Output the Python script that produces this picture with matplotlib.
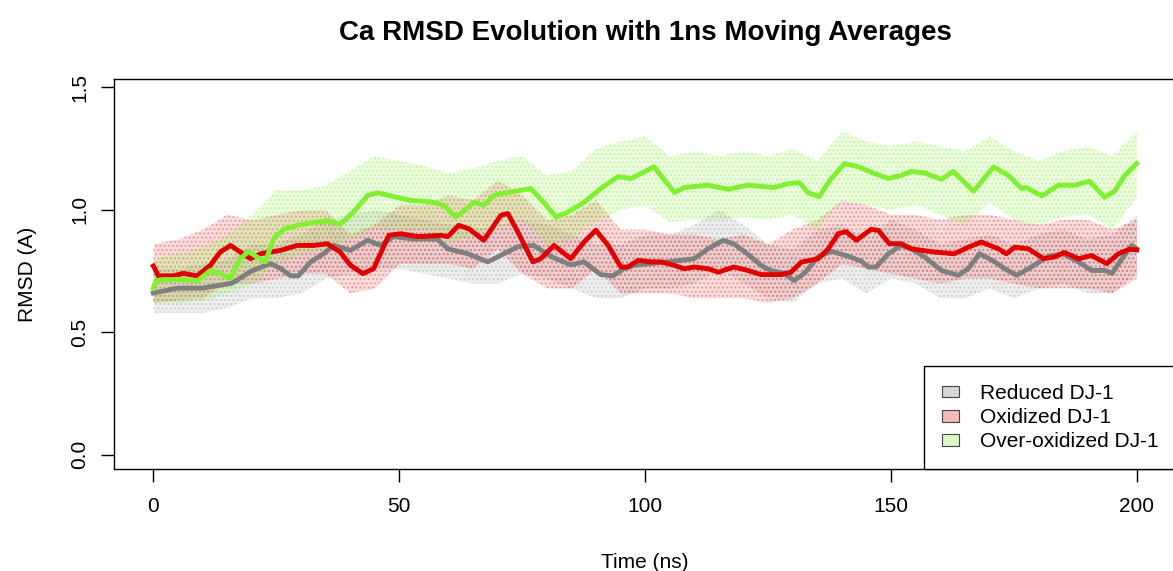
import numpy as np
from matplotlib import pyplot as plt
from matplotlib.patches import Patch

plt.rcParams['font.family'] = ['Liberation Sans', 'DejaVu Sans']

labels = ["Reduced DJ-1", "Oxidized DJ-1", "Over-oxidized DJ-1"]

# 1ns moving averages (time in ns, RMSD in A)
red_t = [0, 0.3, 1, 4, 6.1, 8.9, 11.6, 13.6, 15.7, 17.7, 19.8, 21.8, 25.9, 29.3, 32.6, 35.4, 38, 40.1,
         42.6, 44.8, 47.9, 50.3, 53.8, 58.5, 59.9, 62.1, 64.2, 67.2, 70.7, 72.1, 74.1, 77.2, 78.8, 81.5,
         84.9, 87.6, 90, 92.5, 95.1, 96.5, 98.6, 101.2, 103.3, 105.9, 108, 110, 112.8, 114.9, 118.1,
         120.9, 123.6, 127.7, 129.7, 131.8, 135.2, 137.3, 139.3, 140.9, 143, 146, 147.5, 149.7, 152.1,
         154.2, 158.9, 162.9, 165.8, 168.4, 171.9, 173.5, 175.2, 178, 181.1, 183.3, 185.3, 188.2, 190.8,
         193.9, 196.3, 198.4, 200]
red_ma = [0.77, 0.76, 0.73, 0.73, 0.74, 0.73, 0.773, 0.827, 0.854, 0.827, 0.80, 0.82, 0.834, 0.854, 0.854,
          0.861, 0.827, 0.773, 0.739, 0.759, 0.895, 0.902, 0.89, 0.895, 0.89, 0.936, 0.922, 0.875, 0.977,
          0.984, 0.91, 0.787, 0.80, 0.854, 0.80, 0.868, 0.916, 0.854, 0.766, 0.766, 0.793, 0.787, 0.787,
          0.773, 0.759, 0.766, 0.759, 0.745, 0.766, 0.752, 0.735, 0.735, 0.745, 0.786, 0.80, 0.84, 0.902,
          0.91, 0.875, 0.92, 0.915, 0.861, 0.861, 0.84, 0.827, 0.82, 0.847, 0.868, 0.84, 0.82, 0.847, 0.84,
          0.80, 0.807, 0.825, 0.80, 0.813, 0.78, 0.82, 0.838, 0.836]

green_t = [0, 0.5, 2, 6, 9, 11.6, 13.6, 15.7, 17.7, 19.4, 20.8, 22.8, 24.4, 26.5, 29.3, 33.4, 35.4, 38,
           40.7, 43.6, 45.6, 48.9, 52.3, 56.4, 59.1, 61.5, 62.9, 65.2, 67.2, 69.3, 72.1, 76.8, 79.4, 81.9,
           84.3, 87.6, 91, 94.5, 97.1, 99.2, 101.8, 106, 108, 112.8, 116.9, 120.9, 126.3, 129, 131.4, 133.1,
           135.4, 137.9, 140.6, 143.4, 146.7, 149.5, 152.1, 154.2, 156.8, 160.3, 162.7, 166.8, 170.9,
           173.9, 176.6, 177.6, 180.7, 184.1, 187.4, 190.4, 193.5, 195.5, 197.6, 200]
green_ma = [0.68, 0.71, 0.715, 0.715, 0.71, 0.752, 0.739, 0.72, 0.80, 0.83, 0.81, 0.787, 0.88, 0.92, 0.936,
            0.95, 0.955, 0.94, 0.99, 1.058, 1.069, 1.053, 1.038, 1.032, 1.018, 0.97, 0.99, 1.03, 1.018,
            1.058, 1.07, 1.086, 1.03, 0.97, 0.99, 1.03, 1.086, 1.135, 1.127, 1.147, 1.175, 1.07, 1.09, 1.10,
            1.083, 1.10, 1.09, 1.106, 1.11, 1.07, 1.053, 1.127, 1.188, 1.175, 1.147, 1.127, 1.14, 1.156,
            1.15, 1.124, 1.156, 1.075, 1.174, 1.14, 1.086, 1.09, 1.056, 1.10, 1.10, 1.116, 1.05, 1.075,
            1.14, 1.188]

gray_t = [0, 5, 10, 13, 16, 20, 23.8, 25.9, 27.9, 29.5, 32, 34.6, 36.7, 40.1, 43.6, 46.2, 48.9, 53, 57.8,
          59.9, 64, 68, 71.3, 74.1, 77.4, 80.9, 84.9, 87.6, 91, 93.5, 95.7, 97.8, 101, 104.7, 110, 112.8,
          115.9, 118.1, 121, 123.6, 125.5, 128.3, 130.3, 132.4, 135.2, 137.9, 141.3, 144, 145.4, 147,
          149.5, 152.1, 154.2, 156.8, 160.3, 163.7, 165.8, 168, 170.5, 173.1, 175.6, 178.6, 182, 185,
          188.2, 190.8, 193.5, 195, 197, 199, 200]
gray_ma = [0.66, 0.68, 0.68, 0.69, 0.70, 0.75, 0.78, 0.76, 0.73, 0.73, 0.787, 0.82, 0.854, 0.834, 0.875,
           0.854, 0.89, 0.88, 0.88, 0.84, 0.82, 0.787, 0.82, 0.849, 0.854, 0.808, 0.775, 0.787, 0.735,
           0.73, 0.759, 0.773, 0.78, 0.787, 0.80, 0.84, 0.875, 0.86, 0.817, 0.773, 0.752, 0.74, 0.711,
           0.74, 0.807, 0.83, 0.81, 0.79, 0.766, 0.766, 0.82, 0.854, 0.84, 0.808, 0.752, 0.732, 0.76,
           0.82, 0.795, 0.76, 0.732, 0.766, 0.81, 0.82, 0.786, 0.752, 0.752, 0.74, 0.80, 0.854, 0.84]

# spread of the raw frames (lower / upper edge of the point cloud), every 5 ns
cloud_t = [0, 5, 10, 15, 20, 25, 30, 35, 40, 45, 50, 55, 60, 65, 70, 75, 80, 85, 90, 95, 100,
           105, 110, 115, 120, 125, 130, 135, 140, 145, 150, 155, 160, 165, 170, 175, 180, 185, 190, 195, 200]
gray_lo = [0.58, 0.58, 0.58, 0.60, 0.64, 0.64, 0.66, 0.72, 0.74, 0.76, 0.76, 0.74, 0.72, 0.70, 0.70, 0.74,
           0.72, 0.68, 0.64, 0.64, 0.68, 0.68, 0.70, 0.76, 0.70, 0.64, 0.62, 0.70, 0.72, 0.66, 0.72, 0.70,
           0.64, 0.64, 0.68, 0.64, 0.68, 0.70, 0.66, 0.66, 0.74]
gray_hi = [0.76, 0.76, 0.78, 0.80, 0.86, 0.86, 0.90, 0.96, 0.98, 1.00, 0.98, 0.96, 0.94, 0.92, 0.94, 0.96,
           0.94, 0.90, 0.86, 0.86, 0.90, 0.90, 0.94, 1.00, 0.94, 0.86, 0.84, 0.92, 0.94, 0.88, 0.96, 0.92,
           0.86, 0.88, 0.90, 0.86, 0.90, 0.92, 0.88, 0.90, 0.98]
red_lo = [0.62, 0.63, 0.64, 0.70, 0.70, 0.72, 0.74, 0.74, 0.66, 0.68, 0.78, 0.78, 0.78, 0.76, 0.84, 0.74,
          0.68, 0.68, 0.76, 0.66, 0.66, 0.66, 0.64, 0.64, 0.64, 0.62, 0.64, 0.70, 0.78, 0.76, 0.74, 0.72,
          0.70, 0.72, 0.72, 0.70, 0.68, 0.68, 0.68, 0.66, 0.72]
red_hi = [0.86, 0.88, 0.92, 0.98, 0.96, 0.98, 1.00, 1.00, 0.90, 0.94, 1.02, 1.02, 1.06, 1.04, 1.12, 1.06,
          0.96, 0.98, 1.04, 0.92, 0.92, 0.90, 0.90, 0.88, 0.90, 0.86, 0.92, 0.96, 1.04, 1.02, 0.98, 0.98,
          0.96, 0.98, 0.98, 0.96, 0.94, 0.96, 0.96, 0.92, 0.96]
green_lo = [0.62, 0.62, 0.63, 0.66, 0.70, 0.78, 0.82, 0.84, 0.88, 0.93, 0.92, 0.92, 0.86, 0.90, 0.93, 0.96,
            0.86, 0.88, 0.95, 1.00, 1.02, 0.95, 0.96, 0.96, 0.97, 0.96, 0.98, 0.92, 1.04, 1.02, 1.00, 1.02,
            0.98, 0.94, 1.03, 0.96, 0.94, 0.97, 0.98, 0.92, 1.05]
green_hi = [0.80, 0.82, 0.85, 0.90, 0.98, 1.08, 1.08, 1.10, 1.16, 1.22, 1.20, 1.18, 1.15, 1.17, 1.20, 1.22,
            1.14, 1.16, 1.25, 1.28, 1.30, 1.22, 1.24, 1.22, 1.24, 1.22, 1.25, 1.20, 1.32, 1.28, 1.26, 1.28,
            1.26, 1.24, 1.30, 1.24, 1.20, 1.24, 1.26, 1.22, 1.32]

fig = plt.figure(figsize=(11.73, 5.71), dpi=100)
ax = fig.add_axes([114 / 1173, 102 / 571, 1062 / 1173, 390 / 571])

# raw frames drawn as a faint dotted cloud between the edges read above
clouds = [(gray_lo, gray_hi, '#9a9a9a'), (red_lo, red_hi, '#e03030'), (green_lo, green_hi, '#8cf040')]
for lo, hi, c in clouds:
    ax.fill_between(cloud_t, lo, hi, color=c, alpha=0.16, linewidth=0)
    ax.fill_between(cloud_t, lo, hi, facecolor='none', edgecolor=c, alpha=0.35,
                    hatch='....', linewidth=0)

ax.plot(gray_t, gray_ma, color='#7f7f7f', lw=3.5, solid_joinstyle='round')
ax.plot(red_t, red_ma, color='#e00000', lw=3.5, solid_joinstyle='round')
ax.plot(green_t, green_ma, color='#80f030', lw=3.5, solid_joinstyle='round')

ax.set_xlim(-8, 208)
ax.set_ylim(-0.058, 1.533)
ax.set_xticks([0, 50, 100, 150, 200])
ax.set_yticks([0.0, 0.5, 1.0, 1.5])
ax.set_yticklabels(['0.0', '0.5', '1.0', '1.5'], rotation=90, va='center')
ax.tick_params(axis='both', labelsize=15, length=9.5, width=1, direction='out')
ax.tick_params(axis='x', pad=11)
ax.tick_params(axis='y', pad=8.5)
for s in ax.spines.values():
    s.set_linewidth(1)

ax.set_title("Ca RMSD Evolution with 1ns Moving Averages", fontsize=20, fontweight='bold', y=1.10, pad=0)
ax.set_xlabel("Time (ns)", fontsize=15)
ax.set_ylabel("RMSD (A)", fontsize=15)
ax.xaxis.set_label_coords(0.5, -0.215)
ax.yaxis.set_label_coords(-0.0726, 0.5)

handles = [Patch(facecolor='#d6d6d6', edgecolor='#444444', lw=0.8),
           Patch(facecolor='#f4baba', edgecolor='#444444', lw=0.8),
           Patch(facecolor='#ddf8c8', edgecolor='#444444', lw=0.8)]
leg = ax.legend(handles, labels, loc='lower right', fontsize=15, borderaxespad=0, fancybox=False,
                framealpha=1, edgecolor='black', handlelength=0.8, handleheight=0.5, handletextpad=1.0,
                borderpad=0.85, labelspacing=0.25)
leg.get_frame().set_linewidth(1)

fig.savefig('out.png', dpi=100)
